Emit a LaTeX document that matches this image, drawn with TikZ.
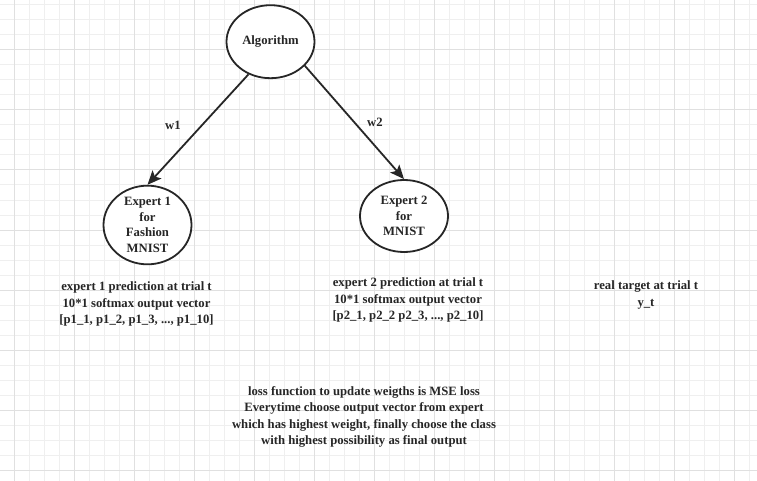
\documentclass[tikz,border=0pt]{standalone}
\usepackage{fontspec}
\setmainfont{Liberation Serif}
\usetikzlibrary{shapes.geometric,arrows.meta}
\definecolor{ink}{HTML}{262626}
\definecolor{gridminor}{HTML}{EFEFEF}
\definecolor{gridmajor}{HTML}{E0E0E0}
\begin{document}
\begin{tikzpicture}[x=1pt,y=-1pt,
  every node/.style={font=\bfseries\fontsize{12.7}{15.7}\selectfont, text=ink},
  bubble/.style={ellipse, draw=ink, line width=1.8pt, minimum width=88pt, minimum height=73pt, inner sep=0pt, align=center, fill=white},
  caption/.style={align=center, inner sep=0pt, font=\bfseries\fontsize{12.7}{16.2}\selectfont},
  link/.style={draw=ink, line width=1.8pt, -{Stealth[length=14pt,width=12pt,inset=3pt]}},
  wlabel/.style={inner sep=1pt}]
\fill[white] (0,0) rectangle (757,481);
\useasboundingbox (0,0) rectangle (757,481);
\foreach \i in {0,...,50} \draw[gridminor, line width=1pt] ({-0.7+15*\i},0) -- ++(0,481);
\foreach \j in {0,...,31} \draw[gridminor, line width=1pt] (0,{5+15*\j}) -- ++(757,0);
\foreach \i in {0,...,12} \draw[gridmajor, line width=1pt] ({14.3+60*\i},0) -- ++(0,481);
\foreach \j in {0,...,7} \draw[gridmajor, line width=1pt] (0,{50+60*\j}) -- ++(757,0);

\node[bubble] (alg) at (270.5,41.7) {Algorithm};
\node[bubble, minimum height=74pt] (e1) at (147.5,225) {Expert 1\\for\\Fashion\\MNIST};
\node[bubble, minimum height=72pt] (e2) at (404,216) {Expert 2\\for\\MNIST};

\draw[link] (alg.-124) -- (e1.north);
\draw[link] (alg.-35) -- (e2.north);

\node[wlabel] (w1) at (173,125) {w1};
\node[wlabel] (w2) at (375,122) {w2};

\node[caption] (c1) at (136.5,304) {expert 1 prediction at trial t\\10*1 softmax output vector\\{[p1\_1, p1\_2, p1\_3, ..., p1\_10]}};
\node[caption] (c2) at (408,300) {expert 2 prediction at trial t\\10*1 softmax output vector\\{[p2\_1, p2\_2 p2\_3, ..., p2\_10]}};
\node[caption] (c3) at (646,295) {real target at trial t\\y\_t};
\node[caption] (c4) at (364,417) {loss function to update weigths is MSE loss\\Everytime choose output vector from expert\\which has highest weight, finally choose the class\\with highest possibility as final output};
\end{tikzpicture}
\end{document}
